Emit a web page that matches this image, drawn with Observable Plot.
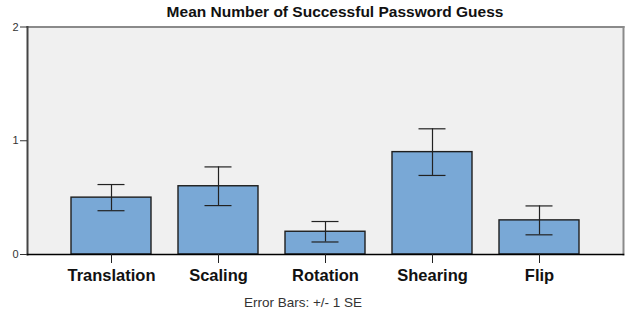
<!DOCTYPE html>
<html>
<head>
<meta charset="utf-8">
<script src="https://cdn.jsdelivr.net/npm/d3@7"></script>
<script src="https://cdn.jsdelivr.net/npm/@observablehq/plot@0.6"></script>
<style>
  html, body { margin: 0; padding: 0; background: #fff; }
  body { width: 626px; height: 318px; overflow: hidden; font-family: "Liberation Sans", Arial, sans-serif; }
  #title { height: 18px; line-height: 24px; font-size: 15.5px; font-weight: bold; color: #111; text-align: center; padding-left: 44px; box-sizing: border-box; width: 626px; overflow: visible; white-space: nowrap; }
  #caption { height: 30px; line-height: 30px; font-size: 13.5px; color: #333; text-align: center; padding-right: 20px; box-sizing: border-box; width: 626px; white-space: nowrap; }
  #chart svg { display: block; }
</style>
</head>
<body>
<div id="title">Mean Number of Successful Password Guess</div>
<div id="chart"></div>
<div id="caption">Error Bars: +/- 1 SE</div>
<script>
const categories = ["Translation", "Scaling", "Rotation", "Shearing", "Flip"];
const means = [0.5, 0.6, 0.2, 0.9, 0.3];
const stdErrors = [0.115, 0.17, 0.09, 0.205, 0.127];
const yTicks = [0, 1, 2];

const data = categories.map((c, i) => ({
  cat: c,
  mean: means[i],
  lo: means[i] - stdErrors[i],
  hi: means[i] + stdErrors[i]
}));

const W = 626, H = 270;
const mL = 27, mR = 3, mT = 8.5, mB = 34;

const plot = Plot.plot({
  width: W,
  height: H,
  marginLeft: mL,
  marginRight: mR,
  marginTop: mT,
  marginBottom: mB,
  style: { fontFamily: "'Liberation Sans', Arial, sans-serif", background: "#fff", overflow: "visible" },
  x: { domain: categories, range: [57.4, 593.6], paddingInner: 0.25, paddingOuter: 0.125, label: null },
  y: { domain: [0, 2], label: null },
  marks: [
    Plot.frame({ fill: "#f0f0f0", stroke: null }),
    Plot.frame({ anchor: "top", stroke: "#8a8a8a", strokeWidth: 2 }),
    Plot.frame({ anchor: "right", stroke: "#8a8a8a", strokeWidth: 2 }),
    Plot.barY(data, { x: "cat", y: "mean", fill: "#79a8d6", stroke: "#1e1e1e", strokeWidth: 1.4 }),
    Plot.ruleX(data, { x: "cat", y1: "lo", y2: "hi", stroke: "#222", strokeWidth: 1.2 }),
    Plot.tickY(data, { x: "cat", y: "lo", stroke: "#222", strokeWidth: 1.2, inset: 26.5 }),
    Plot.tickY(data, { x: "cat", y: "hi", stroke: "#222", strokeWidth: 1.2, inset: 26.5 }),
    Plot.frame({ anchor: "left", stroke: "#444", strokeWidth: 2 }),
    Plot.frame({ anchor: "bottom", stroke: "#000", strokeWidth: 1.5 }),
    Plot.axisY({ ticks: yTicks, tickSize: 7, tickPadding: 2, tickFormat: d3.format("d"), fontSize: 11, stroke: "#333", fill: "#333", label: null }),
    Plot.axisX({ tickSize: 9, tickPadding: 6, fontSize: 16.5, fontWeight: "bold", stroke: "#222", fill: "#111", label: null })
  ]
});
document.getElementById("chart").appendChild(plot);
</script>
</body>
</html>
